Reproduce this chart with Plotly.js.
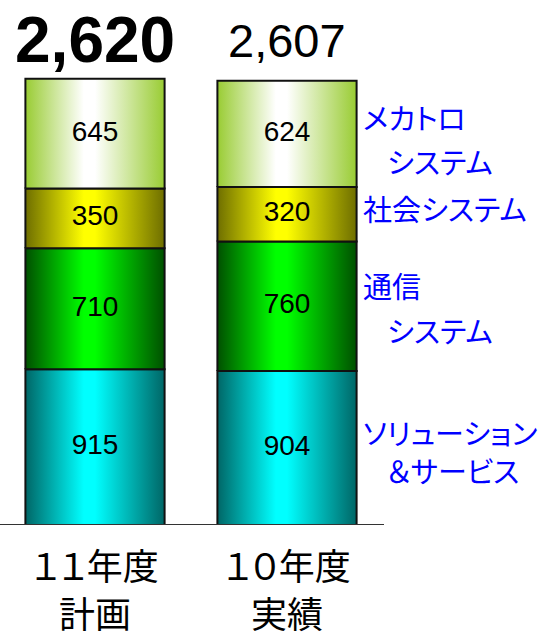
<!DOCTYPE html>
<html>
<head>
<meta charset="utf-8">
<script src="https://cdn.plot.ly/plotly-3.0.1.min.js"></script>
<style>
html,body{margin:0;padding:0;background:#fff;}
.annotation-text{font-feature-settings:"palt" 1;}
</style>
</head>
<body>
<div id="chart" style="width:546px;height:637px;"></div>
<script>
// ---- data ----
const categoryLines = [["１１年度", "計画"], ["１０年度", "実績"]];
const seriesNames = ["ソリューション＆サービス", "通信システム", "社会システム", "メカトロシステム"];
const solution = [915, 904];
const tsushin = [710, 760];
const shakai = [350, 320];
const mechatro = [645, 624];
const totalLabels = ["2,620", "2,607"];
const seriesLabelLines = [
  ["ソリューション", "＆サービス"],
  ["通信", "システム"],
  ["社会システム"],
  ["メカトロ", "システム"]
];

// ---- styles ----
const seriesValues = [solution, tsushin, shakai, mechatro];
const gradients = [
  ["#006666", "#00ffff"],
  ["#005000", "#00ff00"],
  ["#6e6e00", "#ffff00"],
  ["#99cc33", "#ffffff"]
];
const barWidth = 0.725;
const traces = [];
const bases = [0, 0];

seriesValues.forEach((vals, s) => {
  vals.forEach((v, i) => {
    const b = bases[i];
    const x0 = i - barWidth / 2, x1 = i + barWidth / 2;
    const [dark, bright] = gradients[s];
    traces.push({
      type: "scatter", mode: "lines",
      x: [x0, x1, x1, x0, x0],
      y: [b, b, b + v, b + v, b],
      fill: "toself",
      fillgradient: {type: "horizontal", colorscale: [[0, dark], [0.42, bright], [0.5, bright], [1, dark]]},
      line: {color: "#111111", width: 2},
      hoverinfo: "skip", showlegend: false,
      name: seriesNames[s]
    });
  });
  // value labels
  traces.push({
    type: "scatter", mode: "text",
    x: vals.map((v, i) => i),
    y: vals.map((v, i) => bases[i] + v / 2),
    text: vals.map(String),
    textposition: "middle center",
    textfont: {family: "Liberation Sans, Arial, sans-serif", size: 28, color: "#000"},
    hoverinfo: "skip", showlegend: false
  });
  vals.forEach((v, i) => { bases[i] += v; });
});

// helper: pixel y to paper for annotations
const plotTop = 14, plotBottom = 525;
const py = p => (plotBottom - p) / (plotBottom - plotTop);

const annotations = [];
// totals
const totalStyles = [
  {size: 64, bold: true, py: 40},
  {size: 47, bold: false, py: 40}
];
totalLabels.forEach((t, i) => {
  annotations.push({
    x: i, xref: "x", y: py(totalStyles[i].py), yref: "paper",
    text: totalStyles[i].bold ? "<b>" + t + "</b>" : t,
    showarrow: false, xanchor: "center", yanchor: "middle",
    font: {family: "Liberation Sans, Arial, sans-serif", size: totalStyles[i].size, color: "#000"}
  });
});
// category labels (below axis)
const catLinePy = [564, 612];
categoryLines.forEach((lines, i) => {
  lines.forEach((ln, k) => {
    annotations.push({
      x: i, xref: "x", y: py(catLinePy[k]), yref: "paper",
      text: ln, showarrow: false, xanchor: "center", yanchor: "middle",
      borderpad: 0,
      font: {family: "Noto Sans CJK JP, sans-serif", size: 36, color: "#000"}
    });
  });
});
// side labels
const sidePos = [
  [[362, 432], [386, 470]],
  [[362, 285], [386, 330]],
  [[362, 208]],
  [[362, 117], [386, 161]]
];
const xpx = p => (p - 95) / 192;
seriesLabelLines.forEach((lines, s) => {
  lines.forEach((ln, k) => {
    const [px, pyv] = sidePos[s][k];
    annotations.push({
      x: xpx(px), xref: "x", y: py(pyv), yref: "paper",
      text: ln, showarrow: false, xanchor: "left", yanchor: "middle",
      borderpad: 0,
      font: {family: "Noto Sans CJK JP, sans-serif", size: 29, color: "#0000ff"}
    });
  });
});

const layout = {
  width: 546, height: 637,
  margin: {l: 0, r: 0, t: plotTop, b: 637 - plotBottom, pad: 0},
  paper_bgcolor: "#fff", plot_bgcolor: "#fff",
  showlegend: false,
  xaxis: {
    range: [-95 / 192, (546 - 95) / 192],
    showticklabels: false,
    showgrid: false, zeroline: false, showline: false, ticks: "",
    fixedrange: true
  },
  yaxis: {range: [0, 3000], visible: false, fixedrange: true},
  shapes: [{
    type: "line", xref: "paper", yref: "y",
    x0: 0, x1: 384 / 546, y0: 0, y1: 0,
    line: {color: "#333333", width: 2}
  }],
  annotations: annotations
};

Plotly.newPlot("chart", traces, layout, {staticPlot: true, displayModeBar: false});
</script>
</body>
</html>
